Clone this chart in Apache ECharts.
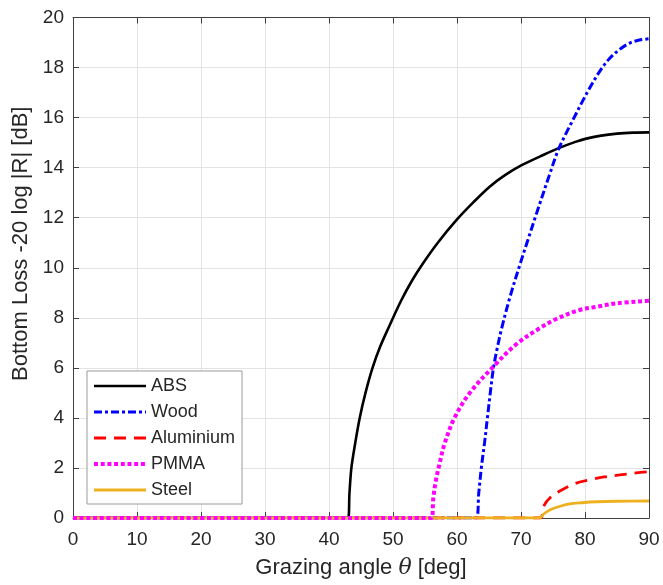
<!DOCTYPE html>
<html>
<head>
<meta charset="utf-8">
<script src="https://cdn.jsdelivr.net/npm/echarts@6/dist/echarts.min.js"></script>
<style>
html,body{margin:0;padding:0;background:#fff;}
#chart{width:663px;height:585px;}
</style>
</head>
<body>
<div id="chart"></div>
<script>
// Grazing angle (deg) and bottom loss (dB) per material
const absTheta = [0, 42.97, 43.2, 43.5, 44.1, 44.8, 45.7, 46.8, 48.0, 49.3, 51.3, 53.0, 54.7, 57.0, 59.9, 62.5, 65.1, 67.5, 70.1, 73.0, 75.8, 78.5, 80.2, 82.3, 85.0, 87.5, 90];
const absLoss  = [0, 0, 1.0, 2.0, 3.0, 4.0, 5.0, 6.0, 6.85, 7.6, 8.7, 9.5, 10.18, 11.0, 11.9, 12.6, 13.24, 13.7, 14.1, 14.45, 14.77, 15.03, 15.16, 15.27, 15.36, 15.4, 15.41];

const woodTheta = [0, 63.0, 63.4, 63.8, 64.3, 64.75, 65.2, 65.7, 66.3, 67.0, 68.3, 69.8, 71.0, 72.4, 74.5, 75.8, 77.0, 78.1, 79.7, 81.0, 82.3, 83.8, 85.4, 87.0, 88.5, 90];
const woodLoss  = [0, 0, 1.0, 2.0, 3.0, 4.0, 5.0, 6.0, 6.8, 7.6, 8.85, 10.1, 11.05, 12.15, 13.75, 14.7, 15.35, 15.9, 16.7, 17.3, 17.85, 18.35, 18.72, 18.98, 19.1, 19.15];

const aluTheta = [0, 73.0, 73.5, 74.5, 76.6, 78.5, 80.7, 83.0, 85.4, 88.0, 90];
const aluLoss  = [0, 0, 0.45, 0.8, 1.15, 1.38, 1.52, 1.64, 1.72, 1.8, 1.85];

const pmmaTheta = [0, 56.0, 56.3, 56.7, 57.3, 58.1, 59.6, 62.0, 65.5, 69.3, 72.9, 75.5, 79.0, 81.8, 85.0, 90];
const pmmaLoss  = [0, 0, 0.8, 1.5, 2.2, 3.0, 4.0, 5.0, 6.0, 6.95, 7.58, 7.95, 8.3, 8.44, 8.58, 8.68];

const steelTheta = [0, 72.9, 73.5, 74.5, 76.0, 77.6, 79.5, 81.8, 85.0, 90];
const steelLoss  = [0, 0, 0.15, 0.32, 0.46, 0.56, 0.61, 0.65, 0.67, 0.68];

const seriesNames = ['ABS', 'Wood', 'Aluminium', 'PMMA', 'Steel'];
const xTicks = [0, 10, 20, 30, 40, 50, 60, 70, 80, 90];
const yTicks = [0, 2, 4, 6, 8, 10, 12, 14, 16, 18, 20];

function pairs(t, v) { return t.map((x, i) => [x, v[i]]); }

const FONT = 'Liberation Sans, Arial, Helvetica, sans-serif';
const AX = '#404040';
const TXT = '#262626';
const GRID = '#e3e3e3';

const styles = {
  'ABS':       {color: '#000000', width: 2.6, type: 'solid'},
  'Wood':      {color: '#0000ff', width: 3,   type: [8, 3, 3, 3]},
  'Aluminium': {color: '#ff0000', width: 2.8, type: [12, 8]},
  'PMMA':      {color: '#ff00ff', width: 4,   type: [4, 2.7]},
  'Steel':     {color: '#EDB120', width: 2.8, type: 'solid'}
};

const chart = echarts.init(document.getElementById('chart'), null, {renderer: 'canvas'});

function lineSeries(name, t, v, z) {
  const s = styles[name];
  return {
    name: name, type: 'line', data: pairs(t, v),
    xAxisIndex: 0, yAxisIndex: 0,
    symbol: 'none', showSymbol: false,
    smooth: 0.35,
    clip: true, z: z,
    lineStyle: {color: s.color, width: s.width, type: s.type, cap: 'butt'},
    itemStyle: {color: s.color},
    emphasis: {disabled: true}
  };
}

const option = {
  animation: false,
  backgroundColor: '#fff',
  textStyle: {fontFamily: FONT},
  grid: {left: 73, right: 14, top: 17.5, bottom: 67, containLabel: false},
  legend: {
    orient: 'vertical',
    left: 87, top: 371,
    data: seriesNames.map(n => ({
      name: n,
      itemStyle: {opacity: 0},
      lineStyle: {color: styles[n].color, width: styles[n].width, type: styles[n].type, opacity: 1}
    })),
    backgroundColor: '#fff',
    borderColor: '#9a9a9a', borderWidth: 1, borderRadius: 0,
    padding: [6, 7, 5, 5],
    itemWidth: 52, itemHeight: 14, itemGap: 8, itemTextGap: 5,
    textStyle: {fontSize: 18, color: TXT, fontFamily: FONT}
  },
  xAxis: [{
    type: 'value', min: 0, max: 90, interval: 10, position: 'bottom',
    name: 'Grazing angle {i|θ} [deg]', nameLocation: 'middle', nameGap: 39,
    nameTextStyle: {fontSize: 22, color: TXT, fontFamily: FONT,
      rich: {i: {fontSize: 22, fontStyle: 'italic', color: TXT, fontFamily: 'DejaVu Serif, serif'}}},
    axisLine: {show: true, onZero: false, lineStyle: {color: AX, width: 1}},
    axisTick: {show: true, inside: true, length: 6, lineStyle: {color: AX}},
    axisLabel: {fontSize: 19, color: TXT, margin: 12, fontFamily: FONT},
    splitLine: {show: true, lineStyle: {color: GRID, width: 1}}
  }, {
    type: 'value', min: 0, max: 90, interval: 10, position: 'top',
    axisLine: {show: true, onZero: false, lineStyle: {color: AX, width: 1}},
    axisTick: {show: true, inside: true, length: 6, lineStyle: {color: AX}},
    axisLabel: {show: false},
    splitLine: {show: false}
  }],
  yAxis: [{
    type: 'value', min: 0, max: 20, interval: 2, position: 'left',
    name: 'Bottom Loss -20 log |R| [dB]', nameLocation: 'middle', nameGap: 31,
    nameTextStyle: {fontSize: 22, color: TXT, fontFamily: FONT, padding: [0, 0, 0, 48]},
    axisLine: {show: true, onZero: false, lineStyle: {color: AX, width: 1}},
    axisTick: {show: true, inside: true, length: 6, lineStyle: {color: AX}},
    axisLabel: {fontSize: 19, color: TXT, margin: 9, fontFamily: FONT},
    splitLine: {show: true, lineStyle: {color: GRID, width: 1}}
  }, {
    type: 'value', min: 0, max: 20, interval: 2, position: 'right',
    axisLine: {show: true, onZero: false, lineStyle: {color: AX, width: 1}},
    axisTick: {show: true, inside: true, length: 6, lineStyle: {color: AX}},
    axisLabel: {show: false},
    splitLine: {show: false}
  }],
  series: [
    lineSeries('ABS', absTheta, absLoss, 2),
    lineSeries('Wood', woodTheta, woodLoss, 2),
    lineSeries('Aluminium', aluTheta, aluLoss, 2),
    lineSeries('Steel', steelTheta, steelLoss, 3),
    lineSeries('PMMA', pmmaTheta, pmmaLoss, 4)
  ]
};

chart.setOption(option);
</script>
</body>
</html>
